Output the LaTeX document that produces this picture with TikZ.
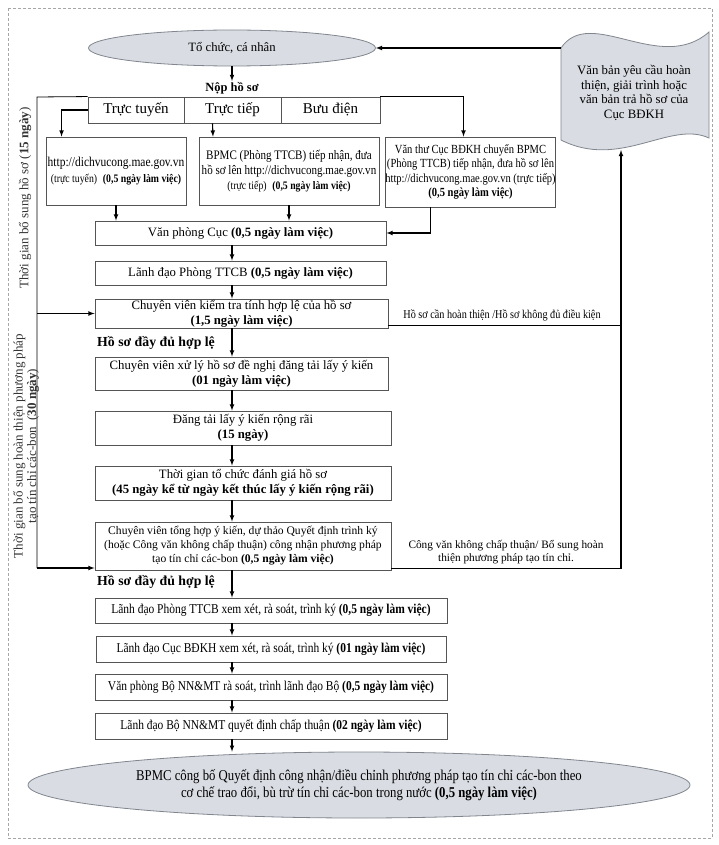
\documentclass[tikz,border=0pt]{standalone}
\usepackage{fontspec}
\setmainfont{Liberation Serif}
\newfontfamily\narrow[FakeStretch=0.85]{Liberation Serif}
\usetikzlibrary{shapes.geometric}
\definecolor{shapefill}{RGB}{217,220,226}
\definecolor{shapeline}{RGB}{128,133,142}
\definecolor{boxline}{RGB}{85,85,85}

\begin{document}
\begin{tikzpicture}[x=1pt,y=-1pt,
    box/.style={draw=boxline, line width=0.9pt, align=center, inner sep=0pt, font=\fontsize{12.75}{15}\selectfont},
    oval/.style={ellipse, draw=shapeline, fill=shapefill, line width=0.8pt, align=center, inner sep=0pt},
    arr/.style={-latex, line width=1.1pt},
    link/.style={line width=0.8pt}]
    \useasboundingbox (0,0) rectangle (719,845);
    \draw[densely dashed, draw=gray!70, line width=0.6pt] (8,8) rectangle (712,838);

    % Applicant and submission
    \node[oval, minimum width=287pt, minimum height=36pt, font=\fontsize{12.7}{15}\selectfont] (org) at (232,48) {Tổ chức, cá nhân};
    \node[font=\bfseries\fontsize{12.5}{14}\selectfont, inner sep=1pt] (submit) at (232,88) {Nộp hồ sơ};
    \draw[arr] (org.south) -- (submit.north);

    % Channels
    \node[box, minimum width=96pt, minimum height=26pt, font=\fontsize{15}{17}\selectfont] (online) at (136,110) {Trực tuyến};
    \node[box, minimum width=97pt, minimum height=26pt, font=\fontsize{15}{17}\selectfont] (direct) at (232.5,110) {Trực tiếp};
    \node[box, minimum width=99pt, minimum height=26pt, font=\fontsize{15}{17}\selectfont] (post) at (330.5,110) {Bưu điện};

    % Reception
    \node[box, minimum width=140pt, minimum height=68pt, font=\narrow\fontsize{13.5}{16}\selectfont] (web) at (116,171)
        {http://dichvucong.mae.gov.vn\\
         {\fontsize{11.5}{13}\selectfont (trực tuyến)\enspace\textbf{(0,5 ngày làm việc)}}};
    \node[box, minimum width=180pt, minimum height=68pt, font=\narrow\fontsize{13}{15}\selectfont] (bpmc) at (289,171)
        {BPMC (Phòng TTCB) tiếp nhận, đưa\\
         hồ sơ lên http://dichvucong.mae.gov.vn\\
         {\fontsize{11.5}{13}\selectfont (trực tiếp)\enspace\textbf{(0,5 ngày làm việc)}}};
    \node[box, minimum width=169pt, minimum height=70pt, font=\narrow\fontsize{12.4}{14.5}\selectfont] (clerk) at (470.5,172)
        {Văn thư Cục BĐKH chuyển BPMC\\
         (Phòng TTCB) tiếp nhận, đưa hồ sơ lên\\
         http://dichvucong.mae.gov.vn (trực tiếp)\\
         \textbf{(0,5 ngày làm việc)}};

    \draw[arr] (online.west) -| ([xshift=16pt]web.north west);
    \draw[arr] ([xshift=-20pt]direct.south) -- ([xshift=-76pt]bpmc.north);
    \draw[arr] (post.north east) -| ([xshift=-7pt]clerk.north);

    % Returned documents
    \draw[draw=shapeline, fill=shapefill, line width=0.8pt] (561,48) .. controls (590,5) and (660,75) .. (709,32)
        -- (709,138) .. controls (670,120) and (620,170) .. (561,140) -- cycle;
    \node[align=center, font=\fontsize{12.8}{14.8}\selectfont] (doc) at (634,93)
        {Văn bản yêu cầu hoàn\\ thiện, giải trình hoặc\\ văn bản trả hồ sơ của\\ Cục BĐKH};
    \coordinate (docw) at (561,48); \coordinate (docb) at (621,150);
    \draw[arr] (docw) -- (org.east);

    % Main steps
    \node[box, minimum width=291pt, minimum height=24pt] (office) at (240.5,233) {Văn phòng Cục \textbf{(0,5 ngày làm việc)}};
    \node[box, minimum width=291pt, minimum height=24pt] (ttcb) at (240.5,273) {Lãnh đạo Phòng TTCB \textbf{(0,5 ngày làm việc)}};
    \node[box, minimum width=293pt, minimum height=29pt] (check) at (241.5,313.5)
        {Chuyên viên kiểm tra tính hợp lệ của hồ sơ\\ \textbf{(1,5 ngày làm việc)}};
    \node[box, minimum width=293pt, minimum height=33pt] (process) at (241.5,373.5)
        {Chuyên viên xử lý hồ sơ đề nghị đăng tải lấy ý kiến\\ \textbf{(01 ngày làm việc)}};
    \node[box, minimum width=296pt, minimum height=34pt] (publish) at (243,428)
        {Đăng tải lấy ý kiến rộng rãi\\ \textbf{(15 ngày)}};
    \node[box, minimum width=296pt, minimum height=34pt] (review) at (243,483)
        {Thời gian tổ chức đánh giá hồ sơ\\ \textbf{(45 ngày kể từ ngày kết thúc lấy ý kiến rộng rãi)}};
    \node[box, minimum width=296pt, minimum height=48pt, font=\fontsize{11.6}{14}\selectfont] (draft) at (243,546)
        {Chuyên viên tổng hợp ý kiến, dự thảo Quyết định trình ký\\
         (hoặc Công văn không chấp thuận) công nhận phương pháp\\
         tạo tín chỉ các-bon \textbf{(0,5 ngày làm việc)}};
    \node[box, minimum width=352pt, minimum height=25pt, font=\narrow\fontsize{13.5}{15}\selectfont] (lead1) at (271,610.5)
        {Lãnh đạo Phòng TTCB xem xét, rà soát, trình ký \textbf{(0,5 ngày làm việc)}};
    \node[box, minimum width=350pt, minimum height=26pt, font=\narrow\fontsize{13.5}{15}\selectfont] (lead2) at (271,649)
        {Lãnh đạo Cục BĐKH xem xét, rà soát, trình ký \textbf{(01 ngày làm việc)}};
    \node[box, minimum width=352pt, minimum height=26pt, font=\narrow\fontsize{13.5}{15}\selectfont] (ministry) at (271,687)
        {Văn phòng Bộ NN\&MT rà soát, trình lãnh đạo Bộ \textbf{(0,5 ngày làm việc)}};
    \node[box, minimum width=352pt, minimum height=26pt, font=\narrow\fontsize{13.5}{15}\selectfont] (approve) at (271,726)
        {Lãnh đạo Bộ NN\&MT quyết định chấp thuận \textbf{(02 ngày làm việc)}};
    \node[oval, minimum width=662pt, minimum height=66pt, font=\narrow\fontsize{15}{17}\selectfont] (announce) at (359,785)
        {BPMC công bố Quyết định công nhận/điều chỉnh phương pháp tạo tín chỉ các-bon theo\\
         cơ chế trao đổi, bù trừ tín chỉ các-bon trong nước \textbf{(0,5 ngày làm việc)}};

    \node[font=\bfseries\fontsize{13.8}{15}\selectfont] (valid1) at (156,343) {Hồ sơ đầy đủ hợp lệ};
    \node[font=\bfseries\fontsize{13.8}{15}\selectfont] (valid2) at (156,582) {Hồ sơ đầy đủ hợp lệ};

    \draw[arr] (web.south) -- (web.south |- office.north);
    \draw[arr] (bpmc.south) -- (bpmc.south |- office.north);
    \draw[arr] ([xshift=-40pt]clerk.south) |- (office.east);
    \foreach \a/\b in {office/ttcb, ttcb/check, check/process, process/publish, publish/review,
        review/draft, draft/lead1, lead1/lead2, lead2/ministry, ministry/approve, approve/announce}
        \draw[arr] (\a.south -| org) -- (\b.north -| org);

    % Supplement loops, left
    \coordinate (ltop) at (37,97); \coordinate (lbot) at (37,568);
    \draw[link] (online.north west) -- (ltop) -- (lbot);
    \draw[arr] (ltop |- check.west) -- (check.west);
    \draw[arr] (lbot) -- (lbot -| draft.west);
    \node[rotate=90, text=black!80, font=\fontsize{13}{14}\selectfont] (phase1) at (25,198)
        {Thời gian bổ sung hồ sơ (\textbf{15 ngày})};
    \node[rotate=90, align=center, text=black!80, font=\fontsize{13}{13.5}\selectfont] (phase2) at (26,446)
        {Thời gian bổ sung hoàn thiện phương pháp\\ tạo tín chỉ các-bon\enspace(\textbf{30 ngày})};

    % Returns, right
    \draw[link] ([yshift=3pt]check.south east) -- ([yshift=3pt]check.south east -| docb);
    \node[font=\narrow\fontsize{12}{13}\selectfont] (gap1) at (502,315) {Hồ sơ cần hoàn thiện /Hồ sơ không đủ điều kiện};
    \draw[arr] ([yshift=2pt]draft.south east) -| (docb);
    \node[align=center, font=\fontsize{11.3}{13.5}\selectfont] (gap2) at (506,552)
        {Công văn không chấp thuận/ Bổ sung hoàn\\ thiện phương pháp tạo tín chỉ.};
\end{tikzpicture}
\end{document}
